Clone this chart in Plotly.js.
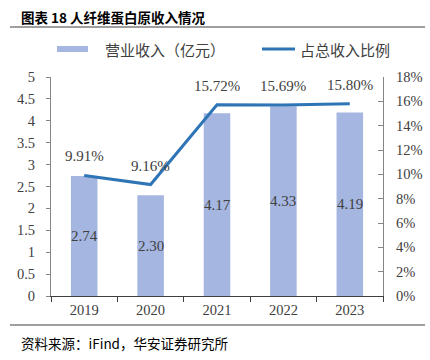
<!DOCTYPE html>
<html><head><meta charset="utf-8">
<script src="https://cdn.plot.ly/plotly-3.0.1.min.js"></script>
<style>html,body{margin:0;padding:0;background:#fff}#chart{width:430px;height:360px}</style>
</head><body><div id="chart"></div>
<script>
const years = ['2019', '2020', '2021', '2022', '2023'];
const revenue = [2.74, 2.30, 4.17, 4.33, 4.19];
const share = [9.91, 9.16, 15.72, 15.69, 15.80];
const leftTicks = [0, 0.5, 1, 1.5, 2, 2.5, 3, 3.5, 4, 4.5, 5];
const rightTicks = [0, 2, 4, 6, 8, 10, 12, 14, 16, 18];
const barName = '营业收入（亿元）';
const lineName = '占总收入比例';
const titleText = '图表 18 人纤维蛋白原收入情况';
const sourceText = '资料来源：iFind，华安证券研究所';

const serif = 'Liberation Serif, Times New Roman, serif';
const cjk = 'Noto Sans CJK SC, sans-serif';
const barColor = '#A5B6E0';
const lineColor = '#2E75B6';
const txt = '#404040';

const traces = [
  {type: 'bar', x: years, y: revenue, name: barName, marker: {color: barColor},
   yaxis: 'y', hoverinfo: 'skip'},
  {type: 'scatter', mode: 'lines', x: years, y: share, name: lineName,
   line: {color: lineColor, width: 3}, yaxis: 'y2', hoverinfo: 'skip'}
];

const annotations = [];
years.forEach((yr, i) => {
  annotations.push({x: i, y: revenue[i] / 2, xref: 'x', yref: 'y', text: revenue[i].toFixed(2),
    showarrow: false, font: {family: serif, size: 15, color: txt}});
  annotations.push({x: i, y: share[i], xref: 'x', yref: 'y2', text: share[i].toFixed(2) + '%',
    showarrow: false, yshift: 19, font: {family: serif, size: 15, color: txt}});
});
annotations.push({xref: 'paper', yref: 'paper', x: -0.095, y: 1.0 + 60/219, xanchor: 'left', yanchor: 'middle',
  text: '<b>' + titleText + '</b>', showarrow: false, font: {family: cjk, size: 13.5, color: '#000'}});
annotations.push({xref: 'paper', yref: 'paper', x: 52/332, y: 1 + 28/219, xanchor: 'left', yanchor: 'middle',
  text: barName, showarrow: false, font: {family: cjk, size: 15, color: txt}});
annotations.push({xref: 'paper', yref: 'paper', x: 247/332, y: 1 + 28/219, xanchor: 'left', yanchor: 'middle',
  text: lineName, showarrow: false, font: {family: cjk, size: 15, color: txt}});
annotations.push({xref: 'paper', yref: 'paper', x: -0.095, y: -47/219, xanchor: 'left', yanchor: 'middle',
  text: sourceText, showarrow: false, font: {family: cjk, size: 13.5, color: '#000'}});

const shapes = [
  {type: 'line', xref: 'paper', yref: 'paper', x0: -41/332, x1: 374/332, y0: 1 + 50/219, y1: 1 + 50/219,
   line: {color: '#7f7f7f', width: 1.5}},
  {type: 'line', xref: 'paper', yref: 'paper', x0: -41/332, x1: 374/332, y0: -29/219, y1: -29/219,
   line: {color: '#7f7f7f', width: 1.5}},
  {type: 'rect', xref: 'paper', yref: 'paper', x0: 6/332, x1: 37/332, y0: 1 + 25/219, y1: 1 + 31/219,
   fillcolor: barColor, line: {width: 0}},
  {type: 'line', xref: 'paper', yref: 'paper', x0: 211/332, x1: 244/332, y0: 1 + 28/219, y1: 1 + 28/219,
   line: {color: lineColor, width: 3}}
];

const layout = {
  width: 430, height: 360,
  margin: {l: 51, r: 47, t: 77, b: 64},
  paper_bgcolor: '#fff', plot_bgcolor: '#fff',
  showlegend: false,
  bargap: 0.6,
  xaxis: {type: 'category', range: [-0.5, years.length - 0.5], autorange: false,
    showline: true, linecolor: '#404040', linewidth: 1.3,
    ticks: 'outside', tickson: 'boundaries', ticklen: 5, tickcolor: '#404040',
    tickfont: {family: serif, size: 14.5, color: txt}, showgrid: false, zeroline: false},
  yaxis: {range: [0, 5], autorange: false, tickvals: leftTicks, ticktext: leftTicks.map(String), showline: true,
    linecolor: '#868686', linewidth: 1, ticks: 'outside', ticklen: 4, tickcolor: '#868686',
    ticklabelstandoff: 8,
    tickfont: {family: serif, size: 14.5, color: txt}, showgrid: false, zeroline: false},
  yaxis2: {range: [0, 18], autorange: false, tickvals: rightTicks, ticktext: rightTicks.map(v => v + '%'),
    overlaying: 'y', side: 'right', showline: true, linecolor: '#868686', linewidth: 1,
    ticks: 'inside', ticklen: 5, tickcolor: '#868686', ticklabelstandoff: 9,
    tickfont: {family: serif, size: 14.5, color: txt}, showgrid: false, zeroline: false},
  annotations: annotations,
  shapes: shapes
};

Plotly.newPlot('chart', traces, layout, {staticPlot: true, displayModeBar: false});
</script></body></html>
